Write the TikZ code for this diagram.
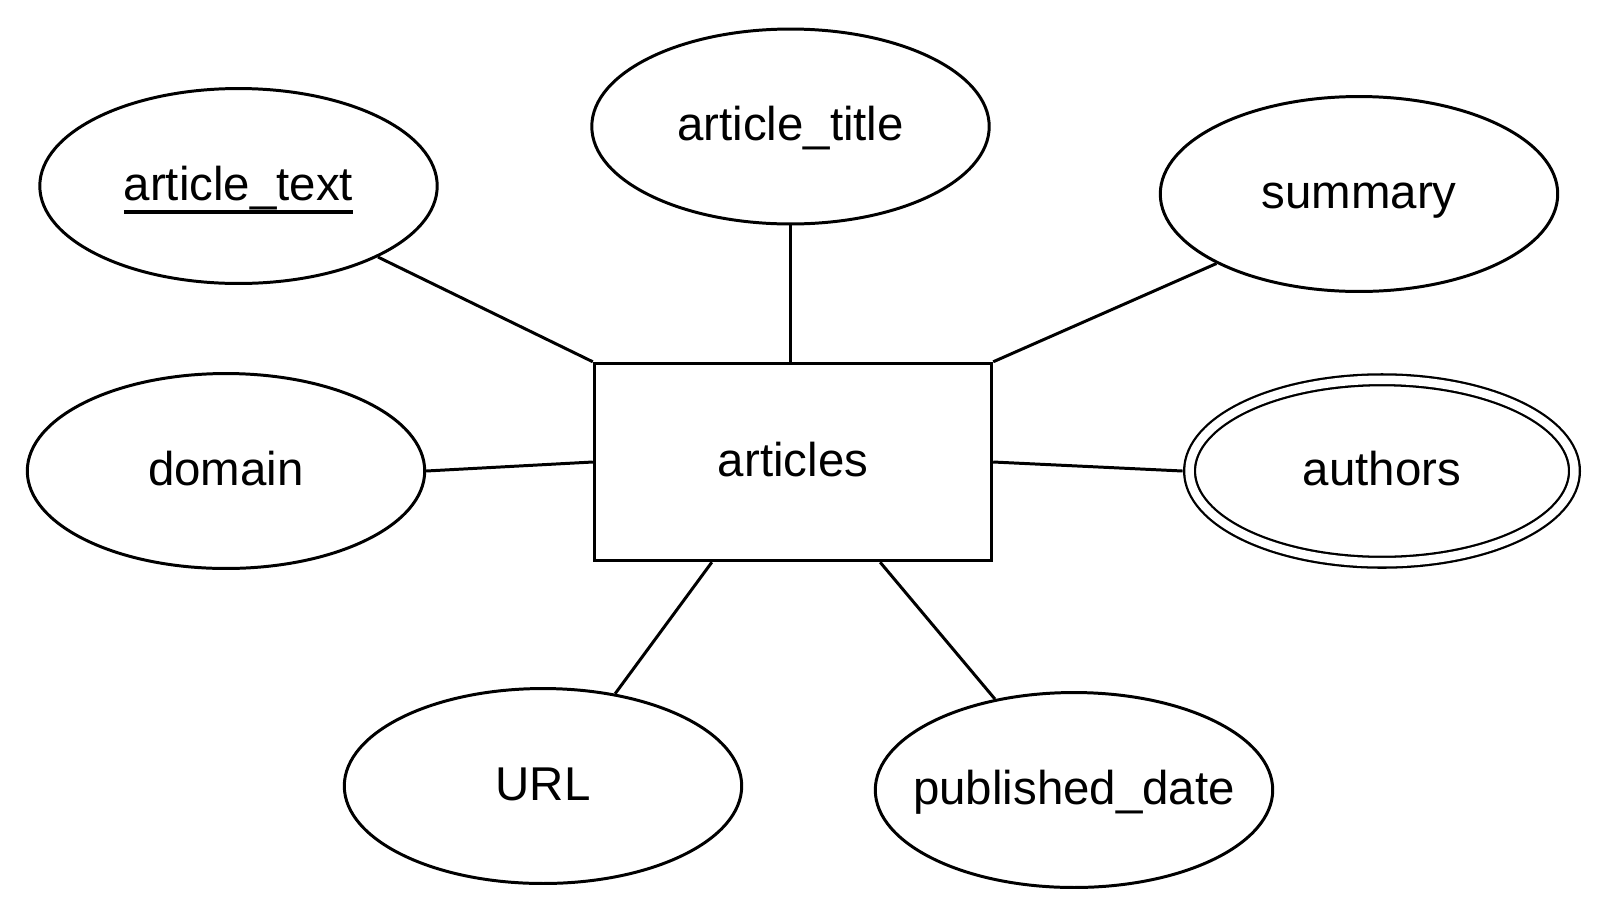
\documentclass[tikz,border=0pt]{standalone}
\usepackage{fontspec}
\setmainfont{Liberation Sans}
\usetikzlibrary{shapes.geometric, positioning}
\newcommand{\keyattr}[1]{%
    \setbox0\hbox{#1}%
    \rlap{\smash{\raisebox{-8pt}{\rule{\wd0}{2.2pt}}}}\box0}
\tikzset{
    attribute/.style={
        ellipse,
        draw=black,
        line width=1.7pt,
        minimum width=7.95cm,
        minimum height=3.9cm,
        inner ysep=0pt,
        inner xsep=-1cm,
        text height=0.74cm,
        text depth=0.18cm,
        font=\fontsize{27}{32}\selectfont
    },
    multivalued/.style={
        attribute,
        line width=1.3pt,
        double,
        double distance=0.17cm,
        minimum width=7.7cm,
        minimum height=3.65cm,
        outer sep=0.14cm
    },
    entity/.style={
        rectangle,
        draw=black,
        line width=1.7pt,
        minimum width=7.95cm,
        minimum height=3.95cm,
        inner sep=0pt,
        text height=0.74cm,
        text depth=0.18cm,
        font=\fontsize{27}{32}\selectfont
    },
    link/.style={
        line width=1.7pt
    }
}

\begin{document}
\begin{tikzpicture}[x=0.02cm, y=-0.02cm]
\useasboundingbox (0,0) rectangle (1612,920);

% entity and its attributes
\node[entity] (articles) at (793,462) {articles};
\node[attribute] (arttext) at (238.5,186) {\keyattr{article\_text}};
\node[attribute] (arttitle) at (790.5,126.5) {article\_title};
\node[attribute] (summary) at (1359,194) {summary};
\node[attribute] (domain) at (226,471) {domain};
\node[multivalued] (authors) at (1382,471) {authors};
\node[attribute] (url) at (543,786) {URL};
\node[attribute] (pubdate) at (1074,790) {published\_date};

% connectors
\draw[link] (arttext.-27) -- (articles.north west);
\draw[link] (arttitle.south) -- (arttitle.south |- articles.north);
\draw[link] (summary.206) -- (articles.north east);
\draw[link] (domain.east) -- (articles.west);
\draw[link] (articles.east) -- (authors.west);
\draw[link] (url.52.6) -- (articles.231);
\draw[link] (pubdate.131) -- (articles.311);

\end{tikzpicture}
\end{document}
